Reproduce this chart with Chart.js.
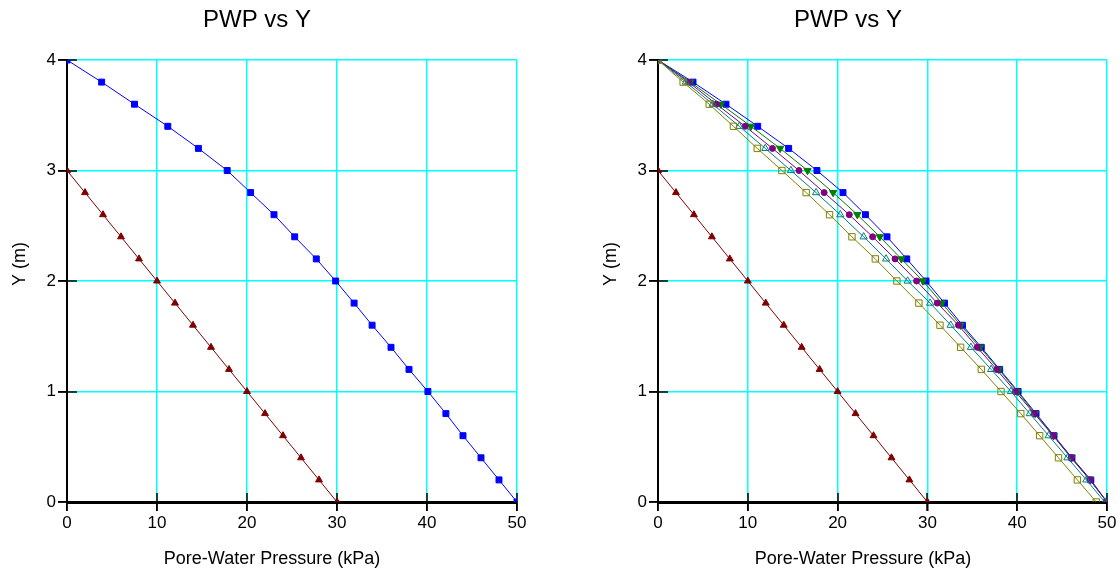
<!DOCTYPE html>
<html><head><meta charset="utf-8">
<script src="https://cdn.jsdelivr.net/npm/chart.js@4/dist/chart.umd.min.js"></script>
<style>
html,body{margin:0;padding:0;background:#fff;overflow:hidden}
#cl{position:absolute;left:0;top:0}
#cr{position:absolute;left:560px;top:0}
</style>
</head><body>
<canvas id="cl" width="560" height="571"></canvas>
<canvas id="cr" width="560" height="571"></canvas>
<script>
const chartTitle = 'PWP vs Y';
const xAxisTitle = 'Pore-Water Pressure (kPa)';
const yAxisTitle = 'Y (m)';
const xTicks = [0, 10, 20, 30, 40, 50];
const yTicks = [0, 1, 2, 3, 4];

const yLevels = [4, 3.8, 3.6, 3.4, 3.2, 3.0, 2.8, 2.6, 2.4, 2.2, 2.0, 1.8, 1.6, 1.4, 1.2, 1.0, 0.8, 0.6, 0.4, 0.2, 0];
const redY = [3, 2.8, 2.6, 2.4, 2.2, 2.0, 1.8, 1.6, 1.4, 1.2, 1.0, 0.8, 0.6, 0.4, 0.2, 0];
const redX = [0, 2, 4, 6, 8, 10, 12, 14, 16, 18, 20, 22, 24, 26, 28, 30];

const blueLeftX = [0, 3.85, 7.5, 11.2, 14.6, 17.8, 20.4, 23.0, 25.3, 27.7, 29.85, 31.9, 33.9, 36.0, 38.0, 40.1, 42.1, 44.0, 46.0, 48.0, 50.0];
const blueX   = [0, 3.9, 7.57, 11.1, 14.55, 17.7, 20.6, 23.1, 25.5, 27.7, 29.85, 31.9, 33.9, 36.0, 38.05, 40.1, 42.1, 44.1, 46.1, 48.2, 50.0];
const greenX  = [0, 3.6, 7.0, 10.35, 13.6, 16.65, 19.5, 22.2, 24.7, 27.1, 29.5, 31.6, 33.7, 35.85, 37.95, 40.0, 42.0, 44.05, 46.05, 48.1, 50.0];
const purpleX = [0, 3.4, 6.5, 9.7, 12.75, 15.7, 18.5, 21.3, 23.9, 26.4, 28.8, 31.1, 33.45, 35.55, 37.7, 39.8, 41.9, 44.0, 46.0, 48.1, 50.0];
const tealX   = [0, 3.1, 6.1, 9.05, 11.95, 14.8, 17.6, 20.3, 22.9, 25.4, 27.8, 30.3, 32.6, 34.85, 37.1, 39.3, 41.4, 43.5, 45.6, 47.7, 49.75];
const oliveX  = [0, 2.8, 5.7, 8.4, 11.05, 13.8, 16.5, 19.1, 21.6, 24.2, 26.6, 29.05, 31.4, 33.7, 36.0, 38.2, 40.4, 42.5, 44.6, 46.7, 48.8];

const FONT = '"Liberation Sans", Arial, sans-serif';
const GRID = '#00FFFF';

function pts(xs, ys) { return xs.map((x, i) => ({x: x, y: ys[i]})); }

const textPlugin = {
  id: 'pwpText',
  beforeDatasetsDraw(chart) {
    const {ctx, chartArea: a, scales} = chart;
    ctx.save();
    ctx.strokeStyle = '#000';
    // axis lines (redrawn so they sit above the grid)
    ctx.lineWidth = 2;
    ctx.beginPath(); ctx.moveTo(a.left, a.top); ctx.lineTo(a.left, a.bottom + 1); ctx.lineTo(a.right, a.bottom + 1); ctx.stroke();
    ctx.lineWidth = 1.5;
    scales.x.ticks.forEach(t => {
      const px = Math.round(scales.x.getPixelForValue(t.value));
      ctx.beginPath(); ctx.moveTo(px, a.bottom + 9); ctx.lineTo(px, a.bottom - 9); ctx.stroke();
    });
    scales.y.ticks.forEach(t => {
      const py = Math.round(scales.y.getPixelForValue(t.value));
      ctx.beginPath(); ctx.moveTo(a.left - 9, py); ctx.lineTo(a.left + 10, py); ctx.stroke();
    });
    ctx.restore();
  },
  afterDraw(chart, args, opts) {
    const {ctx, chartArea: a} = chart;
    ctx.save();
    ctx.fillStyle = '#000';
    ctx.textBaseline = 'alphabetic';
    ctx.textAlign = 'center';
    ctx.font = '24px ' + FONT;
    ctx.fillText(opts.title, a.left + 190, 27);
    ctx.font = '18px ' + FONT;
    ctx.fillText(opts.xTitle, a.left + 205, 564);
    ctx.translate(a.left - 42, 264);
    ctx.rotate(-Math.PI / 2);
    ctx.fillText(opts.yTitle, 0, 0);
    ctx.restore();
  }
};

function gridOpts() {
  return {color: GRID, lineWidth: 1.5, tickColor: '#000', tickLength: 9, tickWidth: 1.5};
}

function makeScales(yWidth) {
  return {
    x: {
      type: 'linear', min: xTicks[0], max: xTicks[xTicks.length - 1],
      afterFit: s => { s.height = 69; },
      grid: gridOpts(),
      border: {color: '#000', width: 2},
      ticks: {stepSize: xTicks[1] - xTicks[0], font: {family: FONT, size: 17}, color: '#000', padding: 2, maxRotation: 0, autoSkip: false}
    },
    y: {
      type: 'linear', min: yTicks[0], max: yTicks[yTicks.length - 1],
      afterFit: s => { s.width = yWidth; },
      grid: gridOpts(),
      border: {color: '#000', width: 2},
      ticks: {stepSize: yTicks[1] - yTicks[0], font: {family: FONT, size: 17}, color: '#000', padding: 2, autoSkip: false}
    }
  };
}

function ds(label, xs, ys, color, style, radius, filled, rotation) {
  return {
    label: label,
    data: pts(xs, ys),
    showLine: true,
    borderColor: color,
    borderWidth: 1,
    pointStyle: style,
    pointRadius: radius,
    pointRotation: rotation || 0,
    pointBackgroundColor: filled ? color : 'rgba(0,0,0,0)',
    pointBorderColor: color,
    pointBorderWidth: 1,
    tension: 0
  };
}

function common(padRight, yWidth, datasets) {
  return {
    type: 'scatter',
    data: {datasets: datasets},
    options: {
      responsive: false, animation: false, devicePixelRatio: 1,
      layout: {padding: {left: 0, right: padRight, top: 60, bottom: 0}},
      scales: makeScales(yWidth),
      plugins: {
        legend: {display: false}, tooltip: {enabled: false},
        pwpText: {title: chartTitle, xTitle: xAxisTitle, yTitle: yAxisTitle}
      }
    },
    plugins: [textPlugin]
  };
}

new Chart(document.getElementById('cl'), common(43, 67, [
  ds('Blue', blueLeftX, yLevels, '#0000FF', 'rect', 4.2, true),
  ds('Red', redX, redY, '#800000', 'triangle', 4, true)
]));

new Chart(document.getElementById('cr'), common(13, 98, [
  ds('Red', redX, redY, '#800000', 'triangle', 4, true),
  ds('Olive', oliveX, yLevels, '#808000', 'rect', 4.5, false),
  ds('Teal', tealX, yLevels, '#008080', 'triangle', 4.2, false),
  ds('Purple', purpleX, yLevels, '#800080', 'circle', 3, true),
  ds('Green', greenX, yLevels, '#008000', 'triangle', 4.2, true, 180),
  ds('Blue', blueX, yLevels, '#0000FF', 'rect', 4.2, true)
]));
</script>
</body></html>
